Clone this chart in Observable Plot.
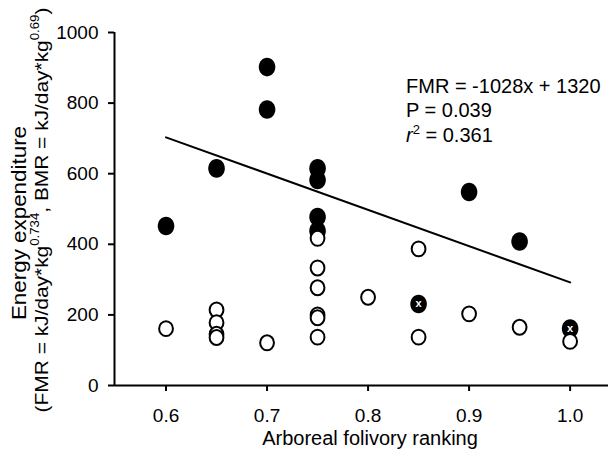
<!DOCTYPE html>
<html><head><meta charset="utf-8">
<script src="https://cdn.jsdelivr.net/npm/d3@7"></script>
<script src="https://cdn.jsdelivr.net/npm/@observablehq/plot@0.6"></script>
<style>body{margin:0;background:#fff} svg{display:block}</style>
</head><body><div id="chart"></div>
<script>
// FMR (filled) points
const fmrX = [0.6, 0.65, 0.7, 0.7, 0.75, 0.75, 0.75, 0.75, 0.85, 0.9, 0.95, 1.0];
const fmrY = [452, 615, 902, 782, 615, 582, 477, 438, 231, 548, 408, 161];
const fmrMarked = [false, false, false, false, false, false, false, false, true, false, false, true];
// BMR (open) points
const bmrX = [0.6, 0.65, 0.65, 0.65, 0.65, 0.7, 0.75, 0.75, 0.75, 0.75, 0.75, 0.75, 0.8, 0.85, 0.85, 0.9, 0.95, 1.0];
const bmrY = [161, 214, 178, 145, 136, 121, 417, 333, 277, 200, 192, 137, 250, 387, 137, 203, 165, 125];
// Regression line (FMR = -1028x + 1320)
const lineX = [0.6, 1.0];
const lineY = [703, 292];
// ticks
const xTicks = [0.6, 0.7, 0.8, 0.9, 1.0];
const yTicks = [0, 200, 400, 600, 800, 1000];
const xDomain = [0.549, 1.038];
const yDomain = [0, 1000];
const annotation = ["FMR = -1028x + 1320", "P = 0.039", "= 0.361"];

const fmr = fmrX.map((x, i) => ({x, y: fmrY[i], marked: fmrMarked[i]}));
const bmr = bmrX.map((x, i) => ({x, y: bmrY[i]}));
const reg = lineX.map((x, i) => ({x, y: lineY[i]}));

const FONT = "'Liberation Sans', Arial, sans-serif";

// slightly tall ellipse symbol (the reference is stretched vertically)
const ellipse = (k) => ({
  draw(ctx, size) {
    const r = Math.sqrt(size / Math.PI), rx = r, ry = r * k, c = 0.5522847498;
    ctx.moveTo(rx, 0);
    ctx.bezierCurveTo(rx, ry * c, rx * c, ry, 0, ry);
    ctx.bezierCurveTo(-rx * c, ry, -rx, ry * c, -rx, 0);
    ctx.bezierCurveTo(-rx, -ry * c, -rx * c, -ry, 0, -ry);
    ctx.bezierCurveTo(rx * c, -ry, rx, -ry * c, rx, 0);
    ctx.closePath();
  }
});

const plot = Plot.plot({
  width: 608, height: 452,
  marginLeft: 114, marginRight: 0, marginTop: 32, marginBottom: 67,
  style: {fontFamily: FONT, fontSize: "19px", color: "#000", background: "#fff"},
  x: {domain: xDomain, label: null},
  y: {domain: yDomain, label: null},
  marks: [
    Plot.axisX({ticks: xTicks, tickFormat: d3.format(".1f"), tickSize: 6, tickPadding: 17, strokeWidth: 2, fontSize: 19}),
    Plot.axisY({ticks: yTicks, tickFormat: d3.format("d"), tickSize: 6, tickPadding: 10, strokeWidth: 2, fontSize: 19}),
    Plot.ruleY([yDomain[0]], {strokeWidth: 2}),
    Plot.ruleX([xDomain[0]], {y1: yDomain[0], y2: yDomain[1], strokeWidth: 2}),
    Plot.line(reg, {x: "x", y: "y", stroke: "#000", strokeWidth: 2}),
    Plot.dot(fmr, {x: "x", y: "y", r: 8.3, symbol: ellipse(1.12), fill: "#000", stroke: "none"}),
    Plot.text(fmr.filter(d => d.marked), {x: "x", y: "y", text: () => "x", fill: "#fff", fontSize: 11, fontWeight: "bold"}),
    Plot.dot(bmr, {x: "x", y: "y", r: 6.9, symbol: ellipse(1.08), fill: "#fff", stroke: "#000", strokeWidth: 2})
  ]
});
document.getElementById("chart").appendChild(plot);

const svg = d3.select(plot);
// annotation
const ann = svg.append("g").attr("font-family", FONT).attr("font-size", 20).attr("fill", "#000").attr("text-anchor", "start");
ann.append("text").attr("x", 406).attr("y", 93).text(annotation[0]);
ann.append("text").attr("x", 406).attr("y", 117).text(annotation[1]);
const t3 = ann.append("text").attr("x", 406).attr("y", 142);
t3.append("tspan").attr("font-style", "italic").text("r");
t3.append("tspan").attr("font-size", 13).attr("dy", -8).text("2");
t3.append("tspan").attr("dy", 8).text(" " + annotation[2]);

// x axis title
svg.append("text").attr("x", 370).attr("y", 445).attr("text-anchor", "middle")
  .attr("font-family", FONT).attr("font-size", 20).text("Arboreal folivory ranking");

// y axis title
const yt = svg.append("g").attr("font-family", FONT).attr("fill", "#000").attr("text-anchor", "middle");
yt.append("text").attr("font-size", 20).attr("transform", "translate(26,223) rotate(-90) scale(1.12,1)").text("Energy expenditure");
const l2 = yt.append("text").attr("font-size", 19).attr("transform", "translate(48,210) rotate(-90) scale(1.1,1)");
l2.append("tspan").text("(FMR = kJ/day*kg");
l2.append("tspan").attr("font-size", 12).attr("dy", -9).text("0.734");
l2.append("tspan").attr("dy", 9).text(", BMR = kJ/day*kg");
l2.append("tspan").attr("font-size", 12).attr("dy", -9).text("0.69");
l2.append("tspan").attr("dy", 9).text(")");
</script>
</body></html>
